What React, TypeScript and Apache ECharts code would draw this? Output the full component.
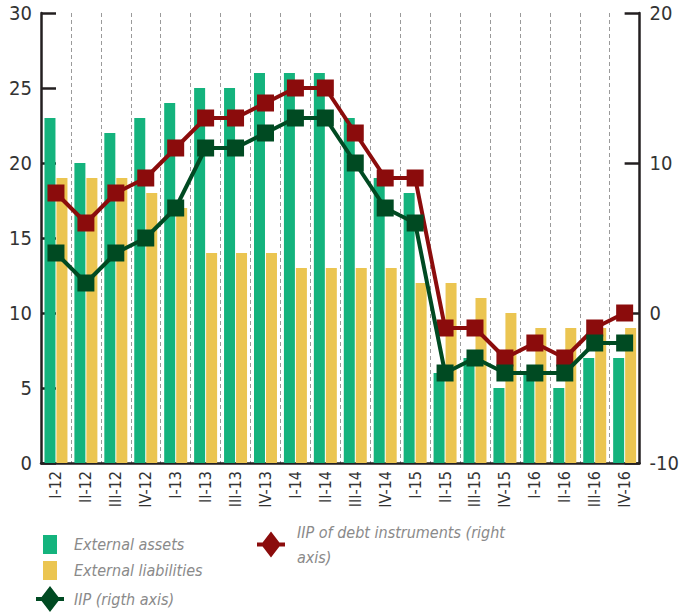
import React, { useEffect, useRef } from "react";
import * as echarts from "echarts";

const categories = ["I-12","II-12","III-12","IV-12","I-13","II-13","III-13","IV-13","I-14","II-14","III-14","IV-14","I-15","II-15","III-15","IV-15","I-16","II-16","III-16","IV-16"];
const externalAssets = [23,20,22,23,24,25,25,26,26,26,23,19,18,6,7,5,6,5,7,7];
const externalLiabilities = [19,19,19,18,17,14,14,14,13,13,13,13,12,12,11,10,9,9,9,9];
const iip = [4,2,4,5,7,11,11,12,13,13,10,7,6,-4,-3,-4,-4,-4,-2,-2];
const iipDebt = [8,6,8,9,11,13,13,14,15,15,12,9,9,-1,-1,-3,-2,-3,-1,0];

const FONT = "'Liberation Sans Narrow', 'DejaVu Sans Condensed', 'Roboto', sans-serif";
const ICON = "path://M0,11 L5.6,11 L14,0 L22.4,11 L28,11 L28,15 L22.4,15 L14,26 L5.6,15 L0,15 Z";

export default function App() {
  const ref = useRef<HTMLDivElement>(null);
  useEffect(() => {
    if (!ref.current) return;
    const chart = echarts.init(ref.current, null, { renderer: "svg" });
    const axisLine = { show: true, lineStyle: { color: "#231F20", width: 2.5 } };
    const legendText = { fontFamily: FONT, fontStyle: "italic", fontSize: 16, color: "#8a8a8a" };
    chart.setOption({
      animation: false,
      grid: { left: 41, right: 37, top: 13, bottom: 153 },
      legend: [
        {
          orient: "vertical", left: 43, top: 535, itemWidth: 14, itemHeight: 19, itemGap: 7,
          icon: "rect", selectedMode: false, padding: 0,
          data: ["External assets", "External liabilities"], textStyle: { ...legendText, padding: [0, 0, 0, 12] },
        },
        {
          left: 36, top: 586, itemWidth: 28, itemHeight: 26, selectedMode: false, padding: 0,
          data: [{ name: "IIP (rigth axis)", icon: ICON }], textStyle: { ...legendText, padding: [0, 0, 0, 5] },
        },
        {
          left: 257, top: 507, itemWidth: 28, itemHeight: 26, selectedMode: false, padding: 0,
          data: [{ name: "IIP of debt instruments (right axis)", icon: ICON }],
          formatter: (n: string) => n.replace(" (right axis)", " (right\naxis)"),
          textStyle: { ...legendText, lineHeight: 25, padding: [25, 0, 0, 7] },
        },
      ],
      xAxis: {
        type: "category", data: categories, boundaryGap: true,
        axisLine, axisTick: { show: false },
        axisLabel: { rotate: 90, fontFamily: FONT, fontSize: 16, color: "#333", margin: 8, interval: 0 },
        splitLine: { show: true, interval: 0, lineStyle: { color: "#9a9a9a", type: [4, 3], width: 1 } },
      },
      yAxis: [
        {
          type: "value", min: 0, max: 30, interval: 5, position: "left",
          axisLine, axisTick: { show: true, inside: true, length: 15, lineStyle: { color: "#231F20", width: 2.5 } },
          axisLabel: { fontFamily: FONT, fontSize: 20, color: "#333", margin: 9 },
          splitLine: { show: false },
        },
        {
          type: "value", min: -10, max: 20, interval: 10, position: "right",
          axisLine, axisTick: { show: true, inside: true, length: 15, lineStyle: { color: "#231F20", width: 2.5 } },
          axisLabel: { fontFamily: FONT, fontSize: 20, color: "#333", margin: 10 },
          splitLine: { show: false },
        },
      ],
      series: [
        { name: "External assets", type: "bar", data: externalAssets, barWidth: 11, barGap: "9%", itemStyle: { color: "#14B37D" } },
        { name: "External liabilities", type: "bar", data: externalLiabilities, barWidth: 11, barGap: "9%", itemStyle: { color: "#EBC551" } },
        {
          name: "IIP (rigth axis)", type: "line", yAxisIndex: 1, data: iip,
          symbol: "rect", symbolSize: 17, lineStyle: { color: "#004A22", width: 4 },
          itemStyle: { color: "#004A22" }, z: 5,
        },
        {
          name: "IIP of debt instruments (right axis)", type: "line", yAxisIndex: 1, data: iipDebt,
          symbol: "rect", symbolSize: 17, lineStyle: { color: "#8B0C0C", width: 4 },
          itemStyle: { color: "#8B0C0C" }, z: 4,
        },
      ],
    });
    return () => chart.dispose();
  }, []);
  return <div ref={ref} style={{ width: 682, height: 616, position: "absolute", left: 0, top: 0 }} />;
}
